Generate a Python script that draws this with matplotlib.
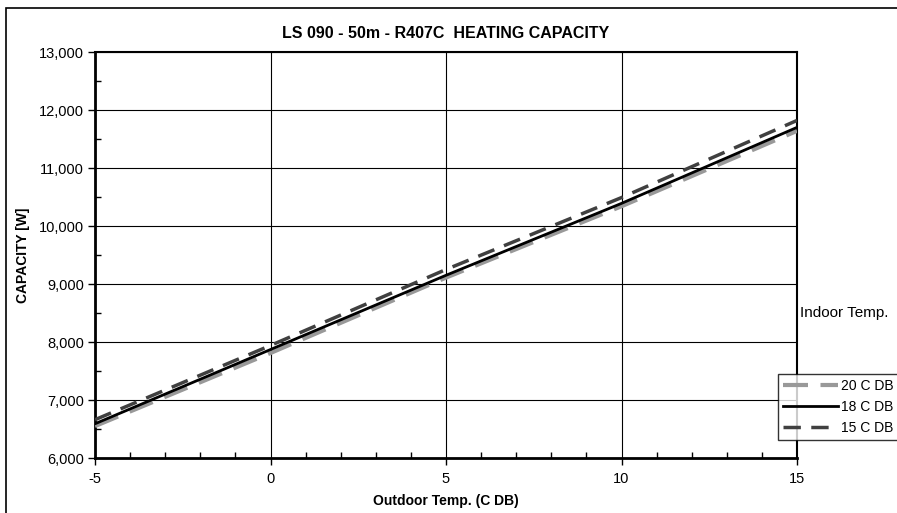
import matplotlib
matplotlib.use("Agg")
import matplotlib.pyplot as plt
from matplotlib.patches import Rectangle
from matplotlib.ticker import MultipleLocator, FuncFormatter

outdoor_temp = [-5, 0, 5, 10, 15]
cap_20 = [6550, 7810, 9110, 10340, 11640]
cap_18 = [6590, 7870, 9150, 10390, 11700]
cap_15 = [6660, 7940, 9250, 10490, 11820]
series_labels = ["20 C DB", "18 C DB", "15 C DB"]

plt.rcParams['font.family'] = ['Liberation Sans', 'DejaVu Sans']
plt.rcParams['axes.unicode_minus'] = False

fig = plt.figure(figsize=(8.97, 5.13), dpi=100)
# outer chart border
fig.patches.append(Rectangle((6/897, -0.1), 1.2, 1 - 8/513 + 0.1, transform=fig.transFigure,
                             fill=False, edgecolor='black', linewidth=1.2))

ax = fig.add_axes([95/897, 55/513, 702/897, 406/513])
ax.plot(outdoor_temp, cap_20, color='#999999', lw=3, dashes=(6, 3), label=series_labels[0], zorder=3)
ax.plot(outdoor_temp, cap_18, color='black', lw=2, label=series_labels[1], zorder=4)
ax.plot(outdoor_temp, cap_15, color='#404040', lw=2.5, dashes=(5, 3), label=series_labels[2], zorder=5)

ax.set_xlim(-5, 15)
ax.set_ylim(6000, 13000)
ax.xaxis.set_major_locator(MultipleLocator(5))
ax.xaxis.set_minor_locator(MultipleLocator(1))
ax.yaxis.set_major_locator(MultipleLocator(1000))
ax.yaxis.set_minor_locator(MultipleLocator(500))
ax.yaxis.set_major_formatter(FuncFormatter(lambda v, p: f"{int(v):,}"))
ax.grid(True, which='major', color='black', lw=0.8)
ax.tick_params(which='major', direction='out', length=5, width=1, labelsize=10.5, pad=3)
ax.tick_params(axis='x', which='major', pad=5)
ax.tick_params(which='minor', direction='in', length=4, width=1)
for s in ['left', 'bottom']:
    ax.spines[s].set_linewidth(2)
for s in ['top', 'right']:
    ax.spines[s].set_linewidth(1.5)

ax.set_title("LS 090 - 50m - R407C  HEATING CAPACITY", fontsize=11.5, fontweight='bold', pad=10)
ax.set_xlabel("Outdoor Temp. (C DB)", fontsize=10, fontweight='bold', labelpad=6)
ax.set_ylabel("CAPACITY [W]", fontsize=10, fontweight='bold', labelpad=6)

fig.text(800/897, 1 - 313/513, "Indoor Temp.", fontsize=11, va='center', ha='left')
leg = ax.legend(loc='center left', bbox_to_anchor=(778/897, 1 - 407/513), bbox_transform=fig.transFigure,
                frameon=True, fancybox=False, edgecolor='black', fontsize=10,
                handlelength=4, handletextpad=0.2, borderpad=0.35, labelspacing=0.5, borderaxespad=0)
leg.get_frame().set_linewidth(1)

fig.savefig("out.png", dpi=100)
